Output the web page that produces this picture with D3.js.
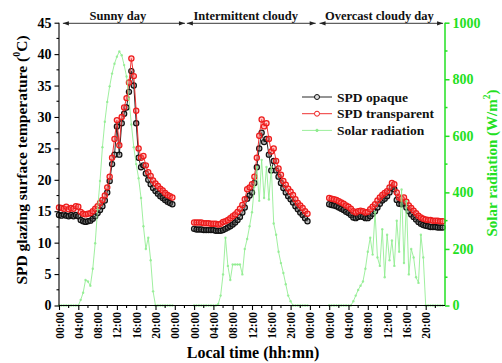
<!DOCTYPE html>
<html>
<head>
<meta charset="utf-8">
<script src="https://cdn.jsdelivr.net/npm/d3@7/dist/d3.min.js"></script>
<style>
  html, body { margin: 0; padding: 0; background: #fff; }
  svg { display: block; }
  svg text { font-family: "Liberation Serif", serif; font-weight: bold; }
</style>
</head>
<body>
<svg id="chart" width="502" height="363"></svg>
<script>
// Half-hourly readings, 00:00 to 23:30, for each of the three monitored days
const days = ["Sunny day", "Intermittent cloudy", "Overcast cloudy day"];
const dayOffsets = [0, 28, 56];          // hours on the shared time axis (4 h gap between days)
const halfHours = d3.range(0, 24, 0.5);

// SPD opaque glazing surface temperature (°C)
const opaqueSunny = [14.4,14.3,14.5,14.3,14.2,14.4,14.2,14.4,14.2,13.6,13.4,13.3,13.4,13.5,13.8,14.2,
  14.7,15.2,15.8,16.7,18.0,19.8,22.5,24.0,28.5,24.0,29.0,30.5,31.5,34.0,37.3,35.0,
  29.0,23.5,22.0,22.3,21.0,20.0,19.3,18.7,18.2,17.8,17.4,17.1,16.8,16.5,16.3,16.1];
const opaqueIntermittent = [12.2,12.1,12.1,12.1,12.0,12.0,12.0,12.0,12.0,11.9,11.9,11.9,12.0,12.2,12.4,12.6,
  12.9,13.2,13.6,14.1,14.8,15.6,17.0,17.5,18.0,19.5,22.0,25.0,27.5,26.0,26.5,24.0,
  21.5,23.0,21.5,20.5,19.5,18.7,18.0,17.4,16.9,16.4,15.8,15.3,14.8,14.4,13.9,13.4];
const opaqueOvercast = [16.1,16.0,15.9,15.8,15.6,15.4,15.2,14.9,14.7,14.4,14.0,13.9,14.1,14.2,14.1,13.9,
  13.9,14.2,14.6,15.0,15.6,16.2,16.7,17.0,17.4,18.0,18.8,18.5,16.8,16.2,16.1,16.3,
  15.6,15.0,14.5,14.1,13.7,13.3,13.0,12.8,12.7,12.6,12.5,12.5,12.5,12.4,12.4,12.4];

// SPD transparent glazing surface temperature (°C)
const transparentSunny = [15.6,15.5,15.4,15.7,15.3,15.5,15.4,15.8,15.7,14.9,14.6,14.5,14.6,14.7,15.0,15.4,
  15.8,16.3,16.8,17.5,18.8,20.5,23.5,26.5,29.5,25.5,30.0,31.5,33.0,35.5,39.3,36.5,
  31.0,25.0,23.5,23.8,22.3,21.2,20.6,19.9,19.4,19.0,18.6,18.3,17.9,17.6,17.4,17.2];
const transparentIntermittent = [13.2,13.2,13.2,13.2,13.1,13.1,13.1,13.0,13.0,13.0,12.9,13.0,13.3,13.4,13.6,13.9,
  14.2,14.5,14.9,15.4,16.0,16.9,18.5,18.8,19.3,20.5,23.5,27.0,29.6,28.5,29.0,26.5,
  24.5,25.0,23.0,21.8,20.8,19.8,19.2,18.6,18.1,17.6,16.9,16.3,15.9,15.5,15.0,14.6];
const transparentOvercast = [17.1,17.0,16.9,16.8,16.6,16.4,16.2,15.9,15.7,15.4,15.0,14.8,15.0,15.1,15.0,14.8,
  14.9,15.3,15.7,16.1,16.7,17.2,17.6,17.9,18.2,18.8,19.5,19.3,18.0,17.2,17.0,17.2,
  16.5,15.9,15.5,15.1,14.7,14.3,14.0,13.8,13.7,13.6,13.6,13.5,13.5,13.5,13.4,13.4];

// Solar radiation (W/m²)
const solarSunny = [0,0,0,0,0,0,0,0,0,20,45,90,85,70,130,220,
  340,440,560,650,720,775,820,855,880,898,885,850,810,730,640,560,
  500,450,380,280,200,240,160,50,0,0,0,0,0,0,0,0];
const solarIntermittent = [0,0,0,0,0,0,0,0,0,0,5,35,110,240,140,90,
  145,145,145,145,110,200,235,280,330,420,490,370,515,380,490,375,
  490,290,250,190,150,115,75,35,15,0,0,0,0,0,0,0];
const solarOvercast = [0,0,0,0,0,0,0,0,0,0,15,35,55,70,85,130,
  190,240,180,330,170,140,270,100,250,160,230,140,300,190,410,150,
  370,110,200,170,100,80,250,170,0,0,0,0,0,0,0,0];

// Axis ticks
const timeTickHours = [0,4,8,12,16,20,24, 28,32,36,40,44,48,52, 56,60,64,68,72,76];
const timeTickLabels = ["00:00","04:00","08:00","12:00","16:00","20:00","00:00",
  "00:00","04:00","08:00","12:00","16:00","20:00","00:00",
  "00:00","04:00","08:00","12:00","16:00","20:00"];
const tempTicks = [0,5,10,15,20,25,30,35,40,45];
const solarTicks = [0,200,400,600,800,1000];

const seriesNames = ["SPD opaque", "SPD transparent", "Solar radiation"];

const FONT = "'Liberation Serif', serif";
const GREEN = "#22e022";
const LIGHT_GREEN = "#8eec8e";
const RED = "#ee1c1c";

const svg = d3.select("#chart");
const x = d3.scaleLinear().domain([0, 80]).range([59, 445]);
const yT = d3.scaleLinear().domain([0, 45]).range([305.5, 22.7]);
const yS = d3.scaleLinear().domain([0, 1000]).range([305.5, 22.7]);

function toPoints(values, day) {
  return values.map((v, i) => ({ t: dayOffsets[day] + halfHours[i], v }));
}

const opaque = [opaqueSunny, opaqueIntermittent, opaqueOvercast].map(toPoints);
const transparent = [transparentSunny, transparentIntermittent, transparentOvercast].map(toPoints);
const solar = [solarSunny, solarIntermittent, solarOvercast].map(toPoints);

const lineT = d3.line().x(d => x(d.t)).y(d => yT(d.v));
const lineS = d3.line().x(d => x(d.t)).y(d => yS(d.v));

const plot = svg.append("g");

// Opaque series
opaque.forEach(pts => {
  plot.append("path").attr("d", lineT(pts)).attr("fill", "none")
    .attr("stroke", "#111").attr("stroke-width", 0.9);
  plot.append("g").selectAll("circle").data(pts).join("circle")
    .attr("cx", d => x(d.t)).attr("cy", d => yT(d.v)).attr("r", 2.6)
    .attr("fill", "#666").attr("fill-opacity", 0.45)
    .attr("stroke", "#111").attr("stroke-width", 1.2);
});

// Transparent series
transparent.forEach(pts => {
  plot.append("path").attr("d", lineT(pts)).attr("fill", "none")
    .attr("stroke", RED).attr("stroke-width", 0.9);
  plot.append("g").selectAll("circle").data(pts).join("circle")
    .attr("cx", d => x(d.t)).attr("cy", d => yT(d.v)).attr("r", 2.6)
    .attr("fill", "#f77").attr("fill-opacity", 0.4)
    .attr("stroke", RED).attr("stroke-width", 1.25);
});

// Solar radiation series
solar.forEach(pts => {
  plot.append("path").attr("d", lineS(pts)).attr("fill", "none")
    .attr("stroke", LIGHT_GREEN).attr("stroke-width", 1).attr("stroke-opacity", 0.85);
  plot.append("g").selectAll("circle").data(pts).join("circle")
    .attr("cx", d => x(d.t)).attr("cy", d => yS(d.v)).attr("r", 1.2)
    .attr("fill", LIGHT_GREEN).attr("fill-opacity", 0.85);
});

function styleTicks(sel, size, color) {
  sel.style("font-family", FONT).style("font-weight", "bold")
    .style("font-size", size + "px").attr("fill", color);
}

// Left axis (temperature)
const leftAxis = svg.append("g").attr("transform", `translate(${x(0)},0)`)
  .call(d3.axisLeft(yT).tickValues(tempTicks).tickFormat(d3.format("d")).tickSize(4.5).tickPadding(3));
leftAxis.append("g").selectAll("line").data(d3.range(2.5, 45, 5)).join("line")
  .attr("x1", 0).attr("x2", -2.5).attr("y1", d => yT(d)).attr("y2", d => yT(d));
styleTicks(leftAxis.selectAll(".tick text"), 14, "#000");
leftAxis.selectAll("path, line").attr("stroke", "#000").attr("stroke-width", 1.1);
leftAxis.select("path.domain").attr("d", `M0,${yT(0)}V${yT(45)}`);

// Right axis (solar radiation)
const rightAxis = svg.append("g").attr("transform", `translate(${x(80)},0)`)
  .call(d3.axisRight(yS).tickValues(solarTicks).tickFormat(d3.format("d")).tickSize(4.5).tickPadding(3));
rightAxis.append("g").selectAll("line").data(d3.range(100, 1000, 200)).join("line")
  .attr("x1", 0).attr("x2", 2.5).attr("y1", d => yS(d)).attr("y2", d => yS(d));
styleTicks(rightAxis.selectAll(".tick text"), 14, GREEN);
rightAxis.selectAll("path, line").attr("stroke", GREEN).attr("stroke-width", 1.5);
rightAxis.select("path.domain").attr("d", `M0,${yS(0)}V${yS(1000)}`);

// Bottom axis (local time)
const bottomAxis = svg.append("g").attr("transform", `translate(0,${yT(0)})`)
  .call(d3.axisBottom(x).tickValues(timeTickHours)
    .tickFormat((d, i) => timeTickLabels[i]).tickSize(4.5).tickPadding(3));
bottomAxis.append("g").selectAll("line").data(d3.range(2, 80, 4)).join("line")
  .attr("x1", d => x(d)).attr("x2", d => x(d)).attr("y1", 0).attr("y2", 2.5);
bottomAxis.selectAll("path, line").attr("stroke", "#000").attr("stroke-width", 1.1);
bottomAxis.select("path.domain").attr("d", `M${x(0)},0H${x(80)}`);
const bottomLabels = bottomAxis.selectAll(".tick text");
styleTicks(bottomLabels, 11.5, "#000");
bottomLabels.attr("text-anchor", "end").attr("dy", null)
  .attr("transform", "rotate(-90)")
  .attr("x", -6.5).attr("y", 0).attr("dominant-baseline", "central");

// Day section arrows and labels
const defs = svg.append("defs");
defs.append("marker").attr("id", "arrowHead").attr("viewBox", "0 0 10 10")
  .attr("refX", 10).attr("refY", 5).attr("markerWidth", 8).attr("markerHeight", 6)
  .attr("markerUnits", "userSpaceOnUse").attr("orient", "auto-start-reverse")
  .append("path").attr("d", "M0,1.5L10,5L0,8.5Z").attr("fill", "#222");

const sectionEdges = [[0.8, 26.1], [26.5, 53.2], [54.0, 79.6]];
const sectionCenters = [12.2, 38.7, 66.4];
sectionEdges.forEach((e, i) => {
  svg.append("line").attr("x1", x(e[0])).attr("x2", x(e[1]))
    .attr("y1", 23.3).attr("y2", 23.3)
    .attr("stroke", "#222").attr("stroke-width", 0.9)
    .attr("marker-start", "url(#arrowHead)").attr("marker-end", "url(#arrowHead)");
  svg.append("text").attr("x", x(sectionCenters[i])).attr("y", 19.5)
    .attr("text-anchor", "middle").style("font-size", "12.5px").attr("fill", "#111")
    .text(days[i]);
});

// Axis titles
const leftTitle = svg.append("text").attr("transform", "translate(21,160) rotate(-90)")
  .attr("text-anchor", "middle").style("font-size", "15.5px").attr("fill", "#000")
  .attr("dominant-baseline", "central");
leftTitle.append("tspan").text("SPD glazing surface temperature (");
leftTitle.append("tspan").style("font-size", "10px").attr("dy", -5).text("0");
leftTitle.append("tspan").attr("dy", 5).text("C)");

const rightTitle = svg.append("text").attr("transform", "translate(492,163) rotate(-90)")
  .attr("text-anchor", "middle").style("font-size", "15px").attr("fill", GREEN)
  .attr("dominant-baseline", "central");
rightTitle.append("tspan").text("Solar radiation (W/m");
rightTitle.append("tspan").style("font-size", "9.5px").attr("dy", -5).text("2");
rightTitle.append("tspan").attr("dy", 5).text(")");

svg.append("text").attr("x", 253).attr("y", 358).attr("text-anchor", "middle")
  .style("font-size", "16px").attr("fill", "#000").text("Local time (hh:mn)");

// Legend
const legend = svg.append("g");
const legendRows = [
  { name: seriesNames[0], stroke: "#111", fill: "#ddd", r: 2.5 },
  { name: seriesNames[1], stroke: RED, fill: "#fff", r: 2.5 },
  { name: seriesNames[2], stroke: LIGHT_GREEN, fill: LIGHT_GREEN, r: 1.2 }
];
legendRows.forEach((row, i) => {
  const yy = 97 + i * 16.7;
  legend.append("line").attr("x1", 302).attr("x2", 332).attr("y1", yy).attr("y2", yy)
    .attr("stroke", row.stroke).attr("stroke-width", 0.9);
  legend.append("circle").attr("cx", 317).attr("cy", yy).attr("r", row.r)
    .attr("fill", row.fill).attr("stroke", row.stroke).attr("stroke-width", 1);
  legend.append("text").attr("x", 337).attr("y", yy).attr("dominant-baseline", "central")
    .style("font-size", "13.5px").attr("fill", "#111").text(row.name);
});
</script>
</body>
</html>
